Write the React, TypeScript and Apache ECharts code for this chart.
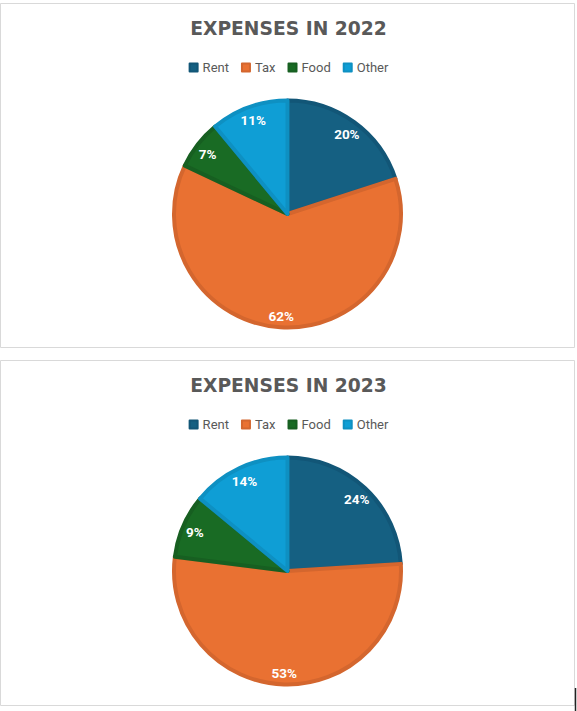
import React, { useEffect, useRef } from "react";
import * as echarts from "echarts";

const categories = ["Rent", "Tax", "Food", "Other"];
const values2022 = [20, 62, 7, 11];
const values2023 = [24, 53, 9, 14];
const titles = ["EXPENSES IN 2022", "EXPENSES IN 2023"];
const fills = ["#156082", "#E97132", "#196B24", "#0F9ED5"];
const edges = ["#125677", "#D4662E", "#175F21", "#0E90C2"];

const FONT = "Roboto, 'Open Sans', sans-serif";
const TITLE_FONT = "'DejaVu Sans', Roboto, sans-serif";

function pieSeries(values: number[], cy: number) {
  const data = categories.map((name, i) => ({
    name,
    value: values[i],
    itemStyle: { color: fills[i], borderColor: edges[i], borderWidth: 4 },
  }));
  const labelData = categories.map((name, i) => ({
    name,
    value: values[i],
  }));
  return [
    {
      type: "pie",
      center: [287.5, cy],
      radius: 113.5,
      startAngle: 90,
      clockwise: true,
      silent: true,
      label: { show: false },
      labelLine: { show: false },
      data,
    },
    {
      type: "pie",
      center: [287.5, cy + 1.5],
      radius: 196,
      startAngle: 90,
      clockwise: true,
      silent: true,
      legendHoverLink: false,
      itemStyle: { color: "rgba(0,0,0,0)", borderWidth: 0 },
      label: {
        show: true,
        position: "inside",
        color: "#ffffff",
        fontFamily: FONT,
        fontWeight: "bold",
        fontSize: 13.5,
        formatter: (p: any) => Math.round(p.percent) + "%",
      },
      labelLine: { show: false },
      data: labelData,
    },
  ];
}

function legendAt(top: number) {
  return {
    top,
    left: "center",
    itemWidth: 8,
    itemHeight: 8,
    itemGap: 12,
    icon: "rect",
    selectedMode: false,
    textStyle: { color: "#595959", fontSize: 13, fontFamily: FONT },
    data: categories.map((name, i) => ({
      name,
      itemStyle: { color: fills[i] },
    })),
  };
}

export default function App() {
  const ref = useRef<HTMLDivElement>(null);
  useEffect(() => {
    if (!ref.current) return;
    const chart = echarts.init(ref.current, null, { renderer: "svg" });
    chart.setOption({
      animation: false,
      backgroundColor: "#ffffff",
      title: [
        {
          text: titles[0],
          left: "center",
          top: 19,
          padding: 0,
          textStyle: { color: "#595959", fontSize: 18.7, fontWeight: "bold", fontFamily: TITLE_FONT },
        },
        {
          text: titles[1],
          left: "center",
          top: 376,
          padding: 0,
          textStyle: { color: "#595959", fontSize: 18.7, fontWeight: "bold", fontFamily: TITLE_FONT },
        },
      ],
      legend: [legendAt(56), legendAt(413)],
      graphic: [
        {
          type: "rect",
          silent: true,
          shape: { x: 0.5, y: 3.5, width: 574, height: 344 },
          style: { fill: "none", stroke: "#d9d9d9", lineWidth: 1 },
        },
        {
          type: "rect",
          silent: true,
          shape: { x: 0.5, y: 360.5, width: 574, height: 345 },
          style: { fill: "none", stroke: "#d9d9d9", lineWidth: 1 },
        },
        {
          type: "line",
          silent: true,
          shape: { x1: 575.5, y1: 688, x2: 575.5, y2: 711 },
          style: { stroke: "#222222", lineWidth: 1.5 },
        },
      ],
      series: [...pieSeries(values2022, 214), ...pieSeries(values2023, 571)],
    });
    return () => chart.dispose();
  }, []);
  return (
    <div
      ref={ref}
      style={{ position: "fixed", left: 0, top: 0, width: 577, height: 711 }}
    />
  );
}
